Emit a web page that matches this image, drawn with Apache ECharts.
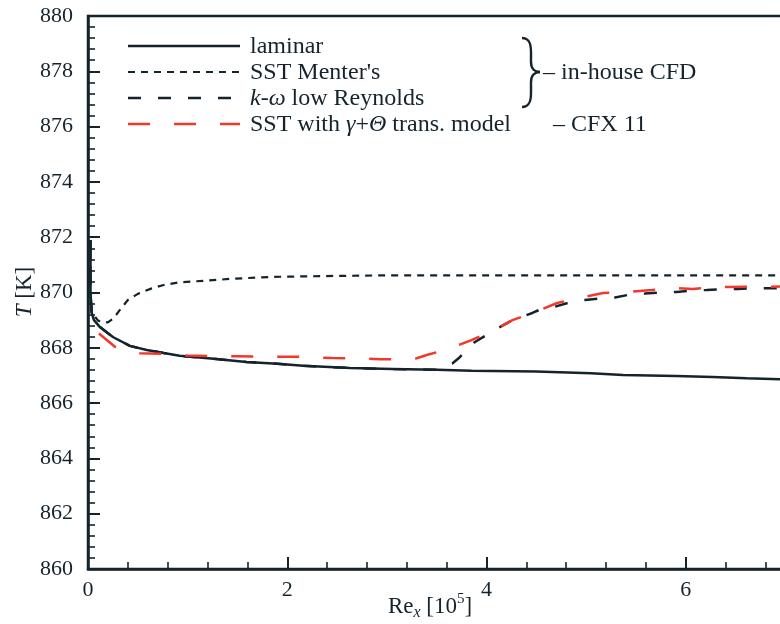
<!DOCTYPE html>
<html>
<head>
<meta charset="utf-8">
<script src="https://cdn.jsdelivr.net/npm/echarts@6/dist/echarts.min.js"></script>
<style>
  html, body { margin: 0; padding: 0; background: #fff; }
  #chart { width: 780px; height: 624px; }
</style>
</head>
<body>
<div id="chart"></div>
<script>
// Wall temperature along the plate versus local Reynolds number, [Re_x (10^5), T (K)]
const laminar = [
  [0.025, 871.9], [0.025, 870.0], [0.037, 869.26], [0.06, 869.0], [0.12, 868.75],
  [0.25, 868.39], [0.42, 868.07], [0.59, 867.92], [0.76, 867.81], [0.92, 867.71],
  [1.26, 867.6], [1.59, 867.49], [1.9, 867.42], [2.16, 867.35], [2.63, 867.27],
  [3.06, 867.23], [3.5, 867.21], [3.85, 867.17], [4.5, 867.14], [5.05, 867.08],
  [5.37, 867.02], [5.9, 866.98], [6.27, 866.94], [6.61, 866.9], [7.0, 866.86]
];
const sstMenter = [
  [0.025, 871.9], [0.025, 870.0], [0.037, 869.3], [0.1, 868.98], [0.2, 868.92],
  [0.26, 869.08], [0.32, 869.37], [0.4, 869.73], [0.5, 869.95], [0.64, 870.15],
  [0.76, 870.27], [0.92, 870.37], [1.19, 870.43], [1.42, 870.49], [1.75, 870.55],
  [1.93, 870.57], [2.5, 870.6], [3.0, 870.62], [4.0, 870.62], [5.0, 870.62],
  [6.0, 870.62], [7.0, 870.62]
];
const kOmegaLowRe = [
  [0.025, 871.9], [0.025, 870.0], [0.037, 869.26], [0.06, 869.0], [0.12, 868.75],
  [0.25, 868.39], [0.42, 868.07], [0.59, 867.92], [0.76, 867.81], [0.92, 867.71],
  [1.26, 867.6], [1.59, 867.49], [1.9, 867.42], [2.16, 867.35], [2.63, 867.27],
  [3.06, 867.23], [3.5, 867.21], [3.58, 867.36], [3.66, 867.44], [3.72, 867.62],
  [3.78, 867.85], [3.88, 868.2], [4.1, 868.68], [4.26, 869.0], [4.46, 869.26],
  [4.53, 869.37], [4.67, 869.47], [4.86, 869.67], [4.99, 869.73], [5.16, 869.79],
  [5.29, 869.82], [5.46, 869.94], [5.59, 869.96], [5.76, 870.0], [5.91, 870.02],
  [6.07, 870.07], [6.21, 870.09], [6.39, 870.12], [6.52, 870.13], [6.69, 870.15],
  [6.84, 870.15], [7.0, 870.16]
];
const sstGammaTheta = [
  [0.11, 868.52], [0.27, 868.04], [0.52, 867.8], [0.75, 867.78], [1.0, 867.72],
  [1.25, 867.7], [1.5, 867.69], [1.71, 867.68], [2.0, 867.68], [2.2, 867.67],
  [2.45, 867.63], [2.66, 867.62], [2.93, 867.59], [3.15, 867.58], [3.3, 867.62],
  [3.4, 867.74], [3.61, 867.95], [3.85, 868.28], [4.08, 868.64], [4.26, 869.0],
  [4.46, 869.26], [4.71, 869.62], [4.92, 869.8], [5.17, 869.98], [5.41, 870.02],
  [5.66, 870.09], [5.87, 870.16], [6.07, 870.13], [6.31, 870.2], [6.61, 870.21],
  [6.84, 870.21], [7.0, 870.22]
];
const yTicks = { min: 860, max: 880, step: 2 };
const xTicks = { min: 0, max: 8, step: 2 };

const INK = '#15232d';
const RED = '#f2382c';
const FONT = '"Liberation Serif", "Times New Roman", serif';
const LEGEND_SIZE = 24;

const chart = echarts.init(document.getElementById('chart'), null, { renderer: 'canvas' });

const measureCtx = document.createElement('canvas').getContext('2d');
function textWidth(str, size, italic) {
  measureCtx.font = (italic ? 'italic ' : '') + size + 'px ' + FONT;
  return measureCtx.measureText(str).width;
}

// x-axis title: Re_x [10^5] assembled from pieces so sub/superscripts sit correctly
function xTitle(cx, cy) {
  const parts = [
    { t: 'Re', s: 23, it: false, dy: 0 },
    { t: 'x', s: 16, it: true, dy: 6 },
    { t: ' [10', s: 23, it: false, dy: 0 },
    { t: '5', s: 15, it: false, dy: -8 },
    { t: ']', s: 23, it: false, dy: 0 }
  ];
  const total = parts.reduce((a, p) => a + textWidth(p.t, p.s, p.it), 0);
  let x = cx - total / 2;
  return parts.map(p => {
    const el = {
      type: 'text', x: x, y: cy + p.dy, silent: true,
      style: {
        text: p.t, fill: INK, textAlign: 'left', textVerticalAlign: 'middle',
        font: (p.it ? 'italic ' : '') + p.s + 'px ' + FONT
      }
    };
    x += textWidth(p.t, p.s, p.it);
    return el;
  });
}

const legendRows = [
  { y: 46, dash: null, color: INK, width: 2.5, text: 'laminar' },
  { y: 72, dash: [7, 6], color: INK, width: 2.2, text: "SST Menter's" },
  { y: 98, dash: [13, 17], color: INK, width: 2.5, text: '{i|k}-{i|ω} low Reynolds' },
  { y: 124, dash: [22, 24], color: RED, width: 2.5, text: 'SST with {i|γ}+{i|Θ} trans. model' }
];

const graphics = [];
legendRows.forEach(r => {
  graphics.push({
    type: 'line', silent: true,
    shape: { x1: 128, y1: r.y, x2: 240, y2: r.y },
    style: { stroke: r.color, lineWidth: r.width, lineDash: r.dash || null }
  });
  graphics.push({
    type: 'text', x: 250, y: r.y + 1, silent: true,
    style: {
      text: r.text, fill: INK, textAlign: 'left', textVerticalAlign: 'middle',
      font: LEGEND_SIZE + 'px ' + FONT,
      rich: { i: { fontStyle: 'italic', fontSize: LEGEND_SIZE, fontFamily: FONT, fill: INK } }
    }
  });
});

// curly brace grouping the in-house CFD runs
const braceStyle = { stroke: INK, lineWidth: 2.4, fill: null };
graphics.push(
  { type: 'bezierCurve', silent: true, shape: { x1: 522, y1: 38, cpx1: 529, cpy1: 38, cpx2: 531, cpy2: 43, x2: 531, y2: 52 }, style: braceStyle },
  { type: 'line', silent: true, shape: { x1: 531, y1: 52, x2: 531, y2: 62 }, style: braceStyle },
  { type: 'bezierCurve', silent: true, shape: { x1: 531, y1: 62, cpx1: 531, cpy1: 69, cpx2: 535, cpy2: 72, x2: 540, y2: 72 }, style: braceStyle },
  { type: 'bezierCurve', silent: true, shape: { x1: 540, y1: 72, cpx1: 535, cpy1: 72, cpx2: 531, cpy2: 75, x2: 531, y2: 82 }, style: braceStyle },
  { type: 'line', silent: true, shape: { x1: 531, y1: 82, x2: 531, y2: 93 }, style: braceStyle },
  { type: 'bezierCurve', silent: true, shape: { x1: 531, y1: 93, cpx1: 531, cpy1: 102, cpx2: 529, cpy2: 107, x2: 522, y2: 107 }, style: braceStyle }
);
graphics.push(
  { type: 'text', x: 543, y: 73, silent: true, style: { text: '– in-house CFD', fill: INK, font: LEGEND_SIZE + 'px ' + FONT, textAlign: 'left', textVerticalAlign: 'middle' } },
  { type: 'text', x: 553, y: 125, silent: true, style: { text: '– CFX 11', fill: INK, font: LEGEND_SIZE + 'px ' + FONT, textAlign: 'left', textVerticalAlign: 'middle' } }
);

// y-axis title: T [K], rotated
graphics.push({
  type: 'text', x: 25, y: 292, rotation: Math.PI / 2, silent: true,
  style: {
    text: '{i|T} [K]', fill: INK, textAlign: 'center', textVerticalAlign: 'middle',
    font: '23px ' + FONT,
    rich: { i: { fontStyle: 'italic', fontSize: 23, fontFamily: FONT, fill: INK } }
  }
});
xTitle(430, 607).forEach(e => graphics.push(e));

const tickLabel = { color: INK, fontFamily: FONT, fontSize: 22 };

chart.setOption({
  animation: false,
  backgroundColor: '#ffffff',
  grid: {
    left: 88, top: 16, width: 797, height: 553,
    outerBoundsMode: 'none', containLabel: false,
    show: true, borderColor: INK, borderWidth: 2.5, backgroundColor: 'transparent'
  },
  xAxis: {
    type: 'value', min: xTicks.min, max: xTicks.max, interval: xTicks.step,
    axisLine: { show: true, onZero: false, lineStyle: { color: INK, width: 2.5 } },
    axisTick: { show: true, inside: true, length: 12, lineStyle: { color: INK, width: 2 } },
    minorTick: { show: true, splitNumber: 5, length: 7, lineStyle: { color: INK, width: 1.6 } },
    splitLine: { show: false },
    axisLabel: Object.assign({ margin: 10 }, tickLabel)
  },
  yAxis: {
    type: 'value', min: yTicks.min, max: yTicks.max, interval: yTicks.step,
    axisLine: { show: true, onZero: false, lineStyle: { color: INK, width: 2.5 } },
    axisTick: { show: true, inside: true, length: 12, lineStyle: { color: INK, width: 2 } },
    minorTick: { show: true, splitNumber: 5, length: 7, lineStyle: { color: INK, width: 1.6 } },
    splitLine: { show: false },
    axisLabel: Object.assign({ margin: 15 }, tickLabel)
  },
  series: [
    { name: 'laminar', type: 'line', data: laminar, showSymbol: false, z: 3,
      lineStyle: { color: INK, width: 2.5 } },
    { name: "SST Menter's", type: 'line', data: sstMenter, showSymbol: false, z: 3,
      lineStyle: { color: INK, width: 2.2, type: [7, 6] } },
    { name: 'k-ω low Reynolds', type: 'line', data: kOmegaLowRe, showSymbol: false, z: 3,
      lineStyle: { color: INK, width: 2.5, type: [13, 17] } },
    { name: 'SST with γ+Θ trans. model', type: 'line', data: sstGammaTheta, showSymbol: false, z: 3,
      lineStyle: { color: RED, width: 2.5, type: [22, 24] } }
  ],
  graphic: graphics
});
</script>
</body>
</html>
